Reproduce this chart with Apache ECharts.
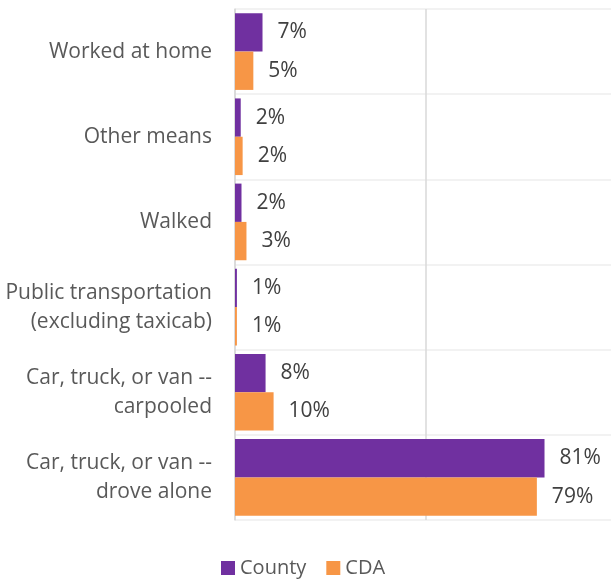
<!DOCTYPE html>
<html>
<head>
<meta charset="utf-8">
<script src="https://cdn.jsdelivr.net/npm/echarts@6/dist/echarts.min.js"></script>
<style>
  html, body { margin: 0; padding: 0; background: #fff; }
  #main { width: 611px; height: 580px; }
</style>
</head>
<body>
<div id="main"></div>
<script>
var categories = [
    'Worked at home',
    'Other means',
    'Walked',
    'Public transportation\n(excluding taxicab)',
    'Car, truck, or van --\ncarpooled',
    'Car, truck, or van --\ndrove alone'
];
var countyValues = [7.2, 1.5, 1.7, 0.5, 8.0, 81];
var cdaValues = [4.8, 2.0, 3.0, 0.5, 10.1, 79];
var seriesNames = ['County', 'CDA'];

var myChart = echarts.init(document.getElementById('main'));

var labelStyle = {
    show: true,
    position: 'right',
    distance: 15,
    fontFamily: 'Open Sans',
    fontSize: 21,
    color: '#404040',
    formatter: function (p) { return Math.round(p.value) + '%'; }
};

option = {
    animation: false,
    color: ['#7030A0', '#F79646'],
    legend: {
        bottom: -3,
        left: 216,
        itemWidth: 14,
        itemHeight: 14,
        itemGap: 20,
        icon: 'rect',
        textStyle: {
            fontFamily: 'Open Sans',
            fontSize: 20,
            color: '#595959'
        },
        data: seriesNames
    },
    grid: {
        left: 235,
        right: 0,
        top: 9,
        bottom: 60
    },
    xAxis: {
        type: 'value',
        min: 0,
        // the plot runs past the right edge of the picture, so the frame stops short of 100
        max: 98.4,
        interval: 50,
        axisLabel: { show: false },
        axisTick: { show: false },
        axisLine: { show: false },
        splitLine: { showMaxLine: false, lineStyle: { color: '#d9d9d9', width: 1.5 } }
    },
    yAxis: {
        type: 'category',
        inverse: true,
        data: categories,
        axisTick: { show: false },
        axisLine: { show: true, lineStyle: { color: '#d9d9d9', width: 1.5 } },
        splitLine: { show: true, lineStyle: { color: '#eeeeee', width: 1.5 } },
        axisLabel: {
            margin: 23,
            fontFamily: 'Open Sans',
            fontSize: 21,
            lineHeight: 29,
            color: '#595959',
            align: 'right'
        }
    },
    series: [{
        name: seriesNames[0],
        type: 'bar',
        barGap: '0%',
        barCategoryGap: '10%',
        label: labelStyle,
        data: countyValues
    }, {
        name: seriesNames[1],
        type: 'bar',
        barGap: '0%',
        barCategoryGap: '10%',
        label: labelStyle,
        data: cdaValues
    }]
};

myChart.setOption(option);
</script>
</body>
</html>
